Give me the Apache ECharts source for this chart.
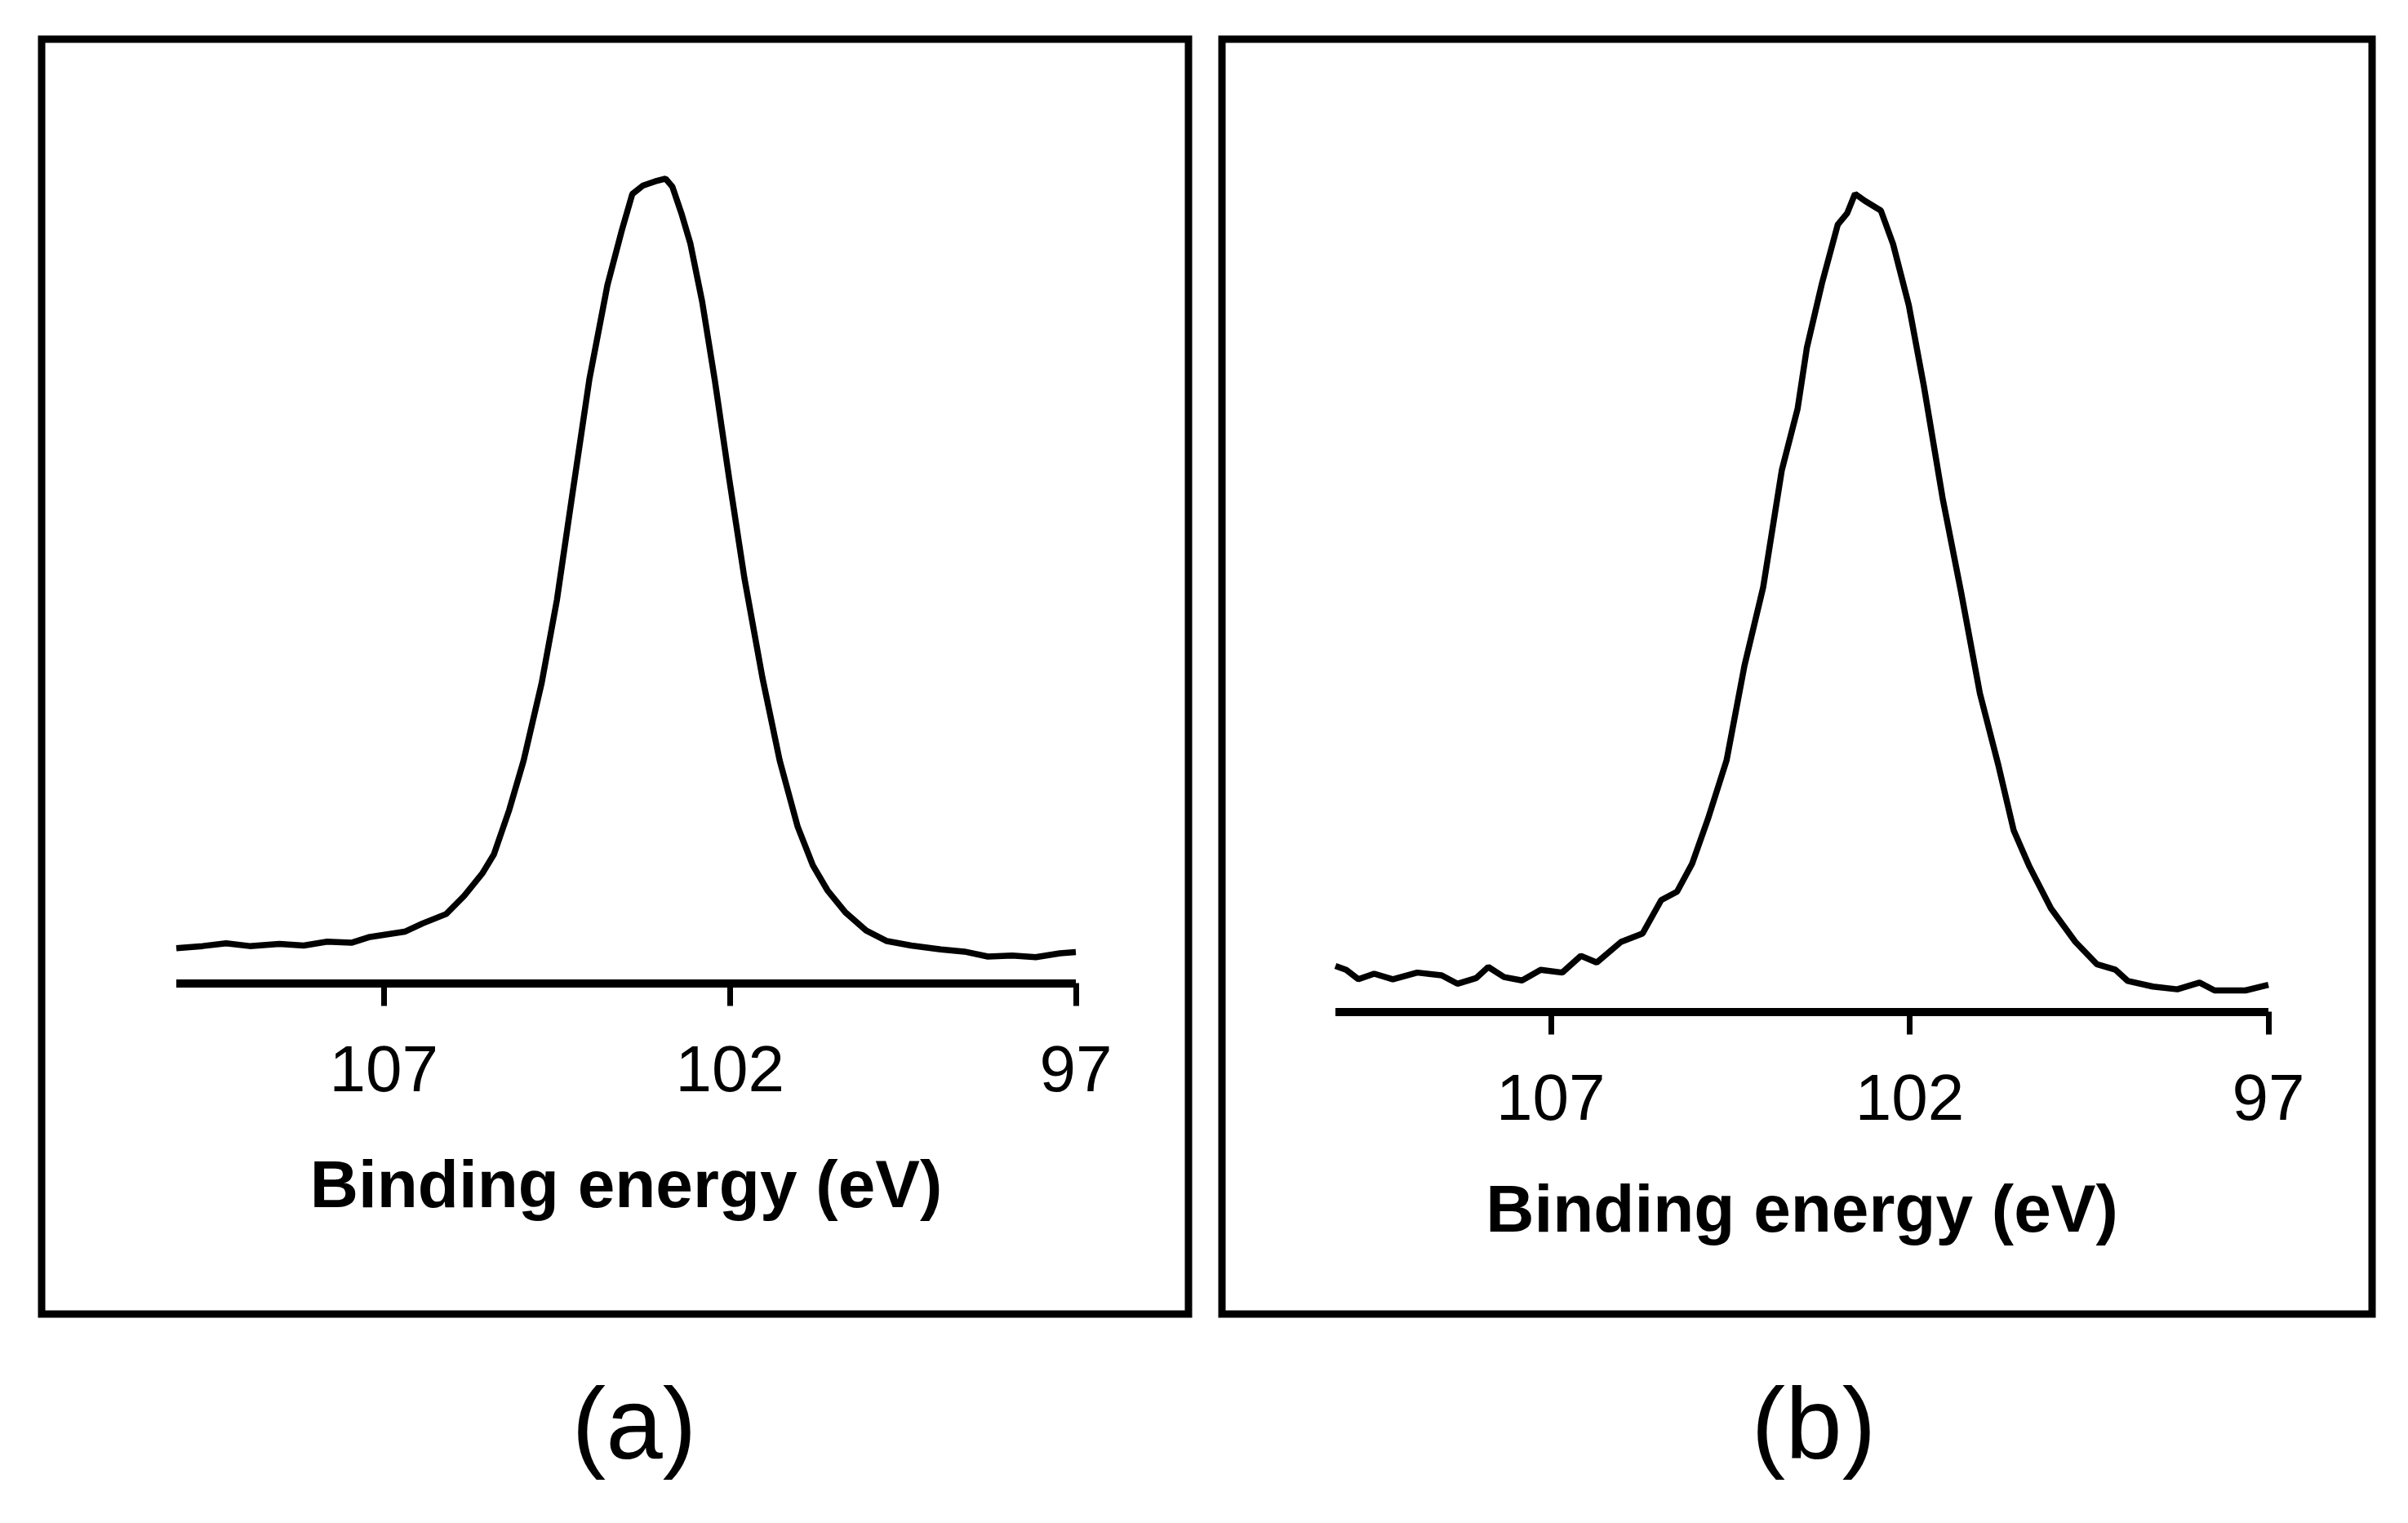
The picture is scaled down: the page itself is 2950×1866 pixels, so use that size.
<!DOCTYPE html>
<html lang="en">
<head>
    <meta charset="UTF-8">
    <title>Binding energy</title>
    <script type="text/javascript" src="https://cdn.jsdelivr.net/npm/echarts@6.0.0/dist/echarts.min.js"></script>
    <style>
        html, body { margin: 0; padding: 0; background: #fff; }
    </style>
</head>
<body>
<div id="main" style="width: 2950px;height:1866px;"></div>

<script type="text/javascript">
    // tick labels shown on both axes
    var tickValues = [107, 102, 97];
    var axisTitle = 'Binding energy (eV)';
    var panelNames = ['(a)', '(b)'];

    // panel (a) spectrum
    var energyA = [110.0, 109.62, 109.28, 108.94, 108.51, 108.16, 107.82, 107.47, 107.22, 106.70,
        106.44, 106.10, 105.84, 105.58, 105.41, 105.19, 104.98, 104.72, 104.50, 104.29,
        104.03, 103.77, 103.56, 103.41, 103.26, 103.08, 102.93, 102.83, 102.70, 102.57,
        102.40, 102.22, 102.01, 101.79, 101.53, 101.28, 101.02, 100.80, 100.59, 100.33,
        100.03, 99.73, 99.38, 98.95, 98.61, 98.27, 97.92, 97.58, 97.23, 97.0];
    var intensityA = [6.3, 6.7, 7.2, 6.7, 7.1, 6.8, 7.5, 7.3, 8.3, 9.3,
        10.8, 12.5, 15.8, 19.8, 23.3, 31.3, 40.3, 54.3, 69.3, 87.3,
        109.3, 126.3, 136.3, 142.8, 144.3, 145.1, 145.6, 144.1, 139.3, 133.8,
        123.3, 109.3, 91.3, 73.3, 55.3, 40.3, 28.3, 21.3, 16.8, 12.8,
        9.5, 7.6, 6.8, 6.1, 5.7, 4.8, 5.0, 4.7, 5.4, 5.6];

    // panel (b) spectrum, noisier baseline
    var energyB = [110.0, 109.85, 109.68, 109.46, 109.20, 108.86, 108.52, 108.30, 108.04, 107.87,
        107.65, 107.40, 107.14, 106.84, 106.58, 106.36, 106.02, 105.72, 105.46, 105.24,
        105.03, 104.81, 104.55, 104.30, 104.04, 103.78, 103.56, 103.43, 103.22, 103.00,
        102.87, 102.76, 102.62, 102.40, 102.23, 102.01, 101.80, 101.54, 101.28, 101.02,
        100.76, 100.55, 100.33, 100.03, 99.69, 99.39, 99.13, 98.96, 98.61, 98.27,
        97.96, 97.75, 97.32, 97.0];
    var intensityB = [8.2, 7.5, 5.8, 6.8, 5.8, 7.0, 6.5, 5.0, 6.0, 8.0,
        6.2, 5.6, 7.5, 7.0, 10.0, 8.8, 12.5, 14.0, 20.0, 21.5,
        26.5, 34.5, 45.0, 62.0, 76.0, 97.0, 108.0, 119.0, 130.5, 141.0,
        143.0, 146.5, 145.2, 143.5, 137.5, 126.5, 112.0, 92.0, 75.0, 57.0,
        44.0, 32.5, 26.0, 18.5, 12.5, 8.5, 7.5, 5.5, 4.5, 4.0,
        5.2, 3.8, 3.8, 4.8];

    function pairs(xs, ys) {
        return xs.map(function (x, i) { return [x, ys[i]]; });
    }

    var font = 'Liberation Sans, Arial, sans-serif';

    function energyAxis(gridIndex, nameGap) {
        return {
            gridIndex: gridIndex,
            type: 'value',
            inverse: true,
            min: 97,
            max: 110,
            axisLine: {show: true, lineStyle: {color: '#000', width: 10, cap: 'butt'}},
            axisTick: {show: true, customValues: tickValues, length: 28, lineStyle: {color: '#000', width: 7}},
            axisLabel: {customValues: tickValues, fontSize: 80, color: '#000', margin: 70, fontFamily: font},
            splitLine: {show: false},
            name: axisTitle,
            nameLocation: 'middle',
            nameGap: nameGap,
            nameTextStyle: {fontSize: 82, fontWeight: 'bold', color: '#000', fontFamily: font}
        };
    }

    function hiddenAxis(gridIndex) {
        return {gridIndex: gridIndex, type: 'value', min: 0, max: 150, show: false};
    }

    var myChart = echarts.init(document.getElementById('main'));

    var option = {
        animation: false,
        backgroundColor: '#fff',
        grid: [
            {left: 216, right: 1632, top: 189, bottom: 661.5},
            {left: 1636, right: 171, top: 213.5, bottom: 626.5}
        ],
        xAxis: [energyAxis(0, 211), energyAxis(1, 206)],
        yAxis: [hiddenAxis(0), hiddenAxis(1)],
        series: [
            {
                type: 'line', xAxisIndex: 0, yAxisIndex: 0,
                showSymbol: false, data: pairs(energyA, intensityA),
                lineStyle: {color: '#000', width: 7.5}
            },
            {
                type: 'line', xAxisIndex: 1, yAxisIndex: 1,
                showSymbol: false, data: pairs(energyB, intensityB),
                lineStyle: {color: '#000', width: 7.5}
            }
        ],
        graphic: [
            {type: 'rect', shape: {x: 51, y: 48, width: 1405, height: 1562}, style: {fill: null, stroke: '#000', lineWidth: 9}},
            {type: 'rect', shape: {x: 1497, y: 48, width: 1409, height: 1562}, style: {fill: null, stroke: '#000', lineWidth: 9}},
            {type: 'text', x: 777, y: 1753, style: {text: panelNames[0], font: '125px ' + font, fill: '#000', textAlign: 'center', textVerticalAlign: 'middle', align: 'center', verticalAlign: 'middle'}},
            {type: 'text', x: 2222, y: 1753, style: {text: panelNames[1], font: '125px ' + font, fill: '#000', textAlign: 'center', textVerticalAlign: 'middle', align: 'center', verticalAlign: 'middle'}}
        ]
    };

    myChart.setOption(option);
</script>
</body>
</html>
